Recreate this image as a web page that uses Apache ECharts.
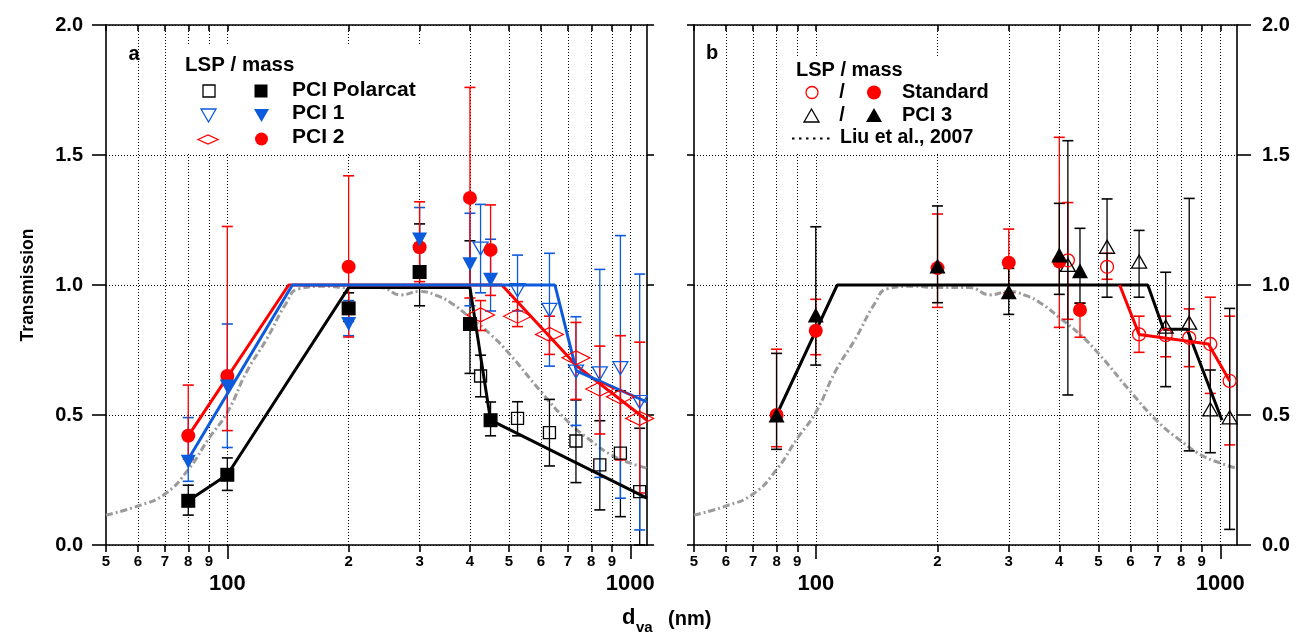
<!DOCTYPE html>
<html><head><meta charset="utf-8">
<script src="https://cdn.jsdelivr.net/npm/echarts@6/dist/echarts.min.js"></script>
<style>html,body{margin:0;padding:0;background:#fff}#c{width:1298px;height:633px}</style>
</head><body><div id="c"></div>
<script>
// ---------- axis ranges & tick labels ----------
const X_MIN = 50, X_MAX = 1100;
const minorTickValues = [50,60,70,80,90,200,300,400,500,600,700,800,900];
const minorTickLabels = ['5','6','7','8','9','2','3','4','5','6','7','8','9'];
const majorTickValues = [100,1000];
const majorTickLabels = ['100','1000'];
const gridXValues = [60,70,80,90,100,200,300,400,500,600,700,800,900,1000];
const yTickLabels = ['0.0','0.5','1.0','1.5','2.0'];

// ---------- Liu et al., 2007 ----------
const liuD = [50,60,70,80,90,100,112,125,140,150,175,200,240,270,300,330,360,400,450,500,600,700,800,900,1000,1100];
const liuT = [0.115,0.15,0.196,0.29,0.41,0.51,0.67,0.79,0.93,0.985,0.995,0.99,0.99,0.962,0.975,0.96,0.93,0.875,0.81,0.737,0.59,0.475,0.4,0.345,0.315,0.295];

// ---------- panel a : mass (filled) ----------
const aMassD = [80,100,200,300,400,450];
const aPolarcatMass   = [0.17,0.27,0.91,1.05,0.85,0.48];
const aPolarcatMassLo = [0.115,0.21,0.86,0.92,0.66,0.42];
const aPolarcatMassHi = [0.23,0.335,0.97,1.235,1.17,0.55];
const aPci1Mass   = [0.32,0.61,0.85,1.175,1.08,1.02];
const aPci1MassLo = [0.245,0.375,0.805,1.06,0.92,0.90];
const aPci1MassHi = [0.49,0.85,0.94,1.298,1.276,1.176];
const aPci2Mass   = [0.42,0.65,1.07,1.145,1.335,1.135];
const aPci2MassLo = [0.33,0.44,0.80,1.013,0.95,0.96];
const aPci2MassHi = [0.615,1.225,1.42,1.32,1.76,1.308];
// ---------- panel a : LSP (open) ----------
const aLspD = [425,525,630,733,840,945,1055];
const aPolarcatLsp   = [0.65,0.487,0.432,0.40,0.308,0.353,0.205];
const aPolarcatLspLo = [0.57,0.42,0.304,0.24,0.135,0.109,0.0];
const aPolarcatLspHi = [0.73,0.551,0.56,0.558,0.478,0.593,0.449];
const aPci1Lsp   = [1.14,0.98,0.904,0.667,0.66,0.68,0.55];
const aPci1LspLo = [0.97,0.90,0.688,0.46,0.26,0.18,0.058];
const aPci1LspHi = [1.31,1.115,1.122,0.878,1.06,1.19,1.042];
const aPci2Lsp   = [0.885,0.88,0.81,0.72,0.60,0.57,0.487];
const aPci2LspLo = [0.825,0.84,0.733,0.56,0.427,0.327,0.2];
const aPci2LspHi = [0.94,0.936,0.88,0.856,0.765,0.805,0.78];
// ---------- panel a : fit lines ----------
const aPolarcatFitD = [80,100,200,400,450,1100];
const aPolarcatFitT = [0.17,0.27,0.99,0.99,0.48,0.18];
const aPci1FitD = [80,145,650,735,1100];
const aPci1FitT = [0.33,1.0,1.0,0.67,0.55];
const aPci2FitD = [80,142,480,735,1100];
const aPci2FitT = [0.42,1.0,1.0,0.69,0.48];

// ---------- panel b : mass (filled) ----------
const bMassD = [80,100,200,300,400,450];
const bStdMass   = [0.5,0.824,1.065,1.086,1.09,0.904];
const bStdMassLo = [0.378,0.732,0.914,0.97,0.837,0.799];
const bStdMassHi = [0.753,0.945,1.273,1.215,1.568,0.93];
const bPci3Mass   = [0.5,0.885,1.073,0.974,1.115,1.055];
const bPci3MassLo = [0.368,0.692,0.932,0.887,0.964,0.93];
const bPci3MassHi = [0.737,1.224,1.304,1.064,1.314,1.218];
// ---------- panel b : LSP (open) ----------
const bLspD = [420,525,630,733,838,945,1055];
const bStdLsp   = [1.095,1.07,0.81,0.807,0.797,0.773,0.631];
const bStdLspLo = [0.868,1.022,0.741,0.724,0.686,0.583,0.385];
const bStdLspHi = [1.317,1.122,0.88,0.88,0.908,0.953,0.88];
const bPci3Lsp   = [1.077,1.147,1.09,0.84,0.855,0.522,0.491];
const bPci3LspLo = [0.577,0.953,0.953,0.609,0.362,0.355,0.06];
const bPci3LspHi = [1.555,1.331,1.21,1.049,1.333,0.673,0.91];
// ---------- panel b : fit lines ----------
const bPci3FitD = [80,113,662,724,828,1010];
const bPci3FitT = [0.5,1.0,1.0,0.83,0.83,0.48];
const bStdFitD = [564,630,935,1055];
const bStdFitT = [1.0,0.81,0.773,0.631];

// ---------- styling ----------
const FONT = '"Liberation Sans", Arial, Helvetica, sans-serif';
const BLUE = '#0b5bdc', RED = '#ff0000', BLACK = '#000000', GREY = '#9b9b9b';
const L10 = Math.log10;
const LMIN = L10(X_MIN), LMAX = L10(X_MAX);

function pts(d, v) { return d.map((x, i) => [x, v[i]]); }

function markerSeries(xi, yi, d, v, symbol, size, color, open, rotate) {
  return {
    type: 'scatter', xAxisIndex: xi, yAxisIndex: yi, data: pts(d, v),
    symbol: symbol, symbolSize: size, symbolRotate: rotate || 0, z: 6, silent: true,
    itemStyle: open ? {color: 'rgba(255,255,255,0)', borderColor: color, borderWidth: 1.3, opacity: 1}
                    : {color: color, borderWidth: 0, opacity: 1}
  };
}
function errSeries(xi, yi, d, lo, hi, color) {
  return {
    type: 'custom', xAxisIndex: xi, yAxisIndex: yi, z: 3, silent: true,
    data: d.map((x, i) => [x, lo[i], hi[i]]),
    encode: {x: 0, y: [1, 2]},
    renderItem: function (params, api) {
      const x = api.value(0);
      const p1 = api.coord([x, api.value(1)]);
      const p2 = api.coord([x, api.value(2)]);
      const w = 5.5;
      return {type: 'group', children: [
        {type: 'line', shape: {x1: p1[0], y1: p1[1], x2: p2[0], y2: p2[1]}, style: {stroke: color, lineWidth: 1.3}},
        {type: 'line', shape: {x1: p1[0] - w, y1: p1[1], x2: p1[0] + w, y2: p1[1]}, style: {stroke: color, lineWidth: 1.6}},
        {type: 'line', shape: {x1: p2[0] - w, y1: p2[1], x2: p2[0] + w, y2: p2[1]}, style: {stroke: color, lineWidth: 1.6}}
      ]};
    }
  };
}
function fitSeries(xi, yi, d, v, color) {
  return {type: 'line', xAxisIndex: xi, yAxisIndex: yi, data: pts(d, v), symbol: 'none', z: 4, silent: true,
          lineStyle: {color: color, width: 3}};
}
function liuSeries(xi, yi) {
  return {
    type: 'line', xAxisIndex: xi, yAxisIndex: yi, data: pts(liuD, liuT), symbol: 'none', smooth: 0.5, z: 2, silent: true,
    lineStyle: {color: GREY, width: 3, type: [7, 3, 2, 3]},
    markLine: {silent: true, symbol: ['none', 'none'], label: {show: false}, z: 1,
               lineStyle: {color: '#000', width: 1, type: [1, 2]},
               data: gridXValues.map(v => ({xAxis: v}))}
  };
}

const axisLineStyle = {color: '#000', width: 1.6};
function labelFromList(values, labels) {
  return function (v) {
    const i = values.findIndex(t => Math.abs(L10(t) - v) < 1e-6);
    return i >= 0 ? labels[i] : '';
  };
}
function xAxes(gi) {
  return [
    {gridIndex: gi, type: 'log', logBase: 10, min: X_MIN, max: X_MAX, position: 'bottom',
     axisLine: {show: true, onZero: false, lineStyle: axisLineStyle}, axisTick: {show: false},
     axisLabel: {show: false}, splitLine: {show: false}},
    {gridIndex: gi, type: 'value', min: LMIN, max: LMAX, position: 'bottom',
     axisLine: {show: false, onZero: false},
     axisTick: {show: true, length: 7, customValues: minorTickValues.map(L10), lineStyle: axisLineStyle},
     axisLabel: {show: true, customValues: minorTickValues.map(L10), margin: 9,
                 formatter: labelFromList(minorTickValues, minorTickLabels),
                 fontSize: 15, fontWeight: 'bold', color: '#000', fontFamily: FONT},
     splitLine: {show: false}},
    {gridIndex: gi, type: 'value', min: LMIN, max: LMAX, position: 'bottom',
     axisLine: {show: false, onZero: false},
     axisTick: {show: true, length: 14, customValues: majorTickValues.map(L10), lineStyle: axisLineStyle},
     axisLabel: {show: true, customValues: majorTickValues.map(L10), margin: 28,
                 formatter: labelFromList(majorTickValues, majorTickLabels),
                 fontSize: 22, fontWeight: 'bold', color: '#000', fontFamily: FONT},
     splitLine: {show: false}},
    {gridIndex: gi, type: 'value', min: LMIN, max: LMAX, position: 'top',
     axisLine: {show: true, onZero: false, lineStyle: axisLineStyle},
     axisTick: {show: true, inside: true, length: 6, customValues: minorTickValues.concat(majorTickValues).map(L10), lineStyle: axisLineStyle},
     axisLabel: {show: false}, splitLine: {show: false}}
  ];
}
function yAxis(gi, pos, labels, tickLen, split, margin) {
  return {gridIndex: gi, type: 'value', min: 0, max: 2, interval: 0.5, position: pos,
    axisLine: {show: true, onZero: false, lineStyle: axisLineStyle},
    axisTick: {show: true, length: tickLen, lineStyle: axisLineStyle},
    axisLabel: {show: labels, margin: margin || 8, fontSize: 20, fontWeight: 'bold', color: '#000', fontFamily: FONT,
                formatter: v => yTickLabels[Math.round(v / 0.5)]},
    splitLine: {show: split, lineStyle: {color: '#000', width: 1, type: [1, 2]}}};
}

// ---------- series ----------
const series = [
  // panel a
  liuSeries(0, 0),
  errSeries(0, 0, aMassD, aPolarcatMassLo, aPolarcatMassHi, BLACK),
  errSeries(0, 0, aMassD, aPci1MassLo, aPci1MassHi, BLUE),
  errSeries(0, 0, aMassD, aPci2MassLo, aPci2MassHi, RED),
  errSeries(0, 0, aLspD, aPolarcatLspLo, aPolarcatLspHi, BLACK),
  errSeries(0, 0, aLspD, aPci1LspLo, aPci1LspHi, BLUE),
  errSeries(0, 0, aLspD, aPci2LspLo, aPci2LspHi, RED),
  fitSeries(0, 0, aPolarcatFitD, aPolarcatFitT, BLACK),
  fitSeries(0, 0, aPci2FitD, aPci2FitT, RED),
  fitSeries(0, 0, aPci1FitD, aPci1FitT, BLUE),
  markerSeries(0, 0, aLspD, aPolarcatLsp, 'rect', 12, BLACK, true),
  markerSeries(0, 0, aLspD, aPci1Lsp, 'triangle', [15, 13], BLUE, true, 180),
  markerSeries(0, 0, aLspD, aPci2Lsp, 'diamond', [28, 14], RED, true),
  markerSeries(0, 0, aMassD, aPolarcatMass, 'rect', 14, BLACK, false),
  markerSeries(0, 0, aMassD, aPci2Mass, 'circle', 14, RED, false),
  markerSeries(0, 0, aMassD, aPci1Mass, 'triangle', [15, 14], BLUE, false, 180),
  // panel b
  liuSeries(4, 2),
  errSeries(4, 2, bMassD, bStdMassLo, bStdMassHi, RED),
  errSeries(4, 2, bMassD, bPci3MassLo, bPci3MassHi, BLACK),
  errSeries(4, 2, bLspD, bStdLspLo, bStdLspHi, RED),
  errSeries(4, 2, bLspD, bPci3LspLo, bPci3LspHi, BLACK),
  fitSeries(4, 2, bPci3FitD, bPci3FitT, BLACK),
  fitSeries(4, 2, bStdFitD, bStdFitT, RED),
  markerSeries(4, 2, bLspD, bStdLsp, 'circle', 13, RED, true),
  markerSeries(4, 2, bLspD, bPci3Lsp, 'triangle', [15, 13], BLACK, true),
  markerSeries(4, 2, bMassD, bStdMass, 'circle', 14, RED, false),
  markerSeries(4, 2, bMassD, bPci3Mass, 'triangle', [16, 15], BLACK, false)
];

// ---------- graphic (legends, titles) ----------
function txt(x, y, text, size, align, extra) {
  return Object.assign({type: 'text', x: x, y: y, z: 60, silent: true,
    style: {text: text, fill: '#000', font: 'bold ' + size + 'px ' + FONT, textAlign: align || 'left', textVerticalAlign: 'middle'}}, extra || {});
}
function rectBox(x, y, w, h) { return {type: 'rect', z: 50, silent: true, shape: {x: x, y: y, width: w, height: h}, style: {fill: '#fff'}}; }
function sq(cx, cy, s, color, open) {
  return {type: 'rect', z: 60, silent: true, shape: {x: cx - s / 2, y: cy - s / 2, width: s, height: s},
          style: open ? {fill: 'none', stroke: color, lineWidth: 1.3} : {fill: color}};
}
function poly(points, color, open) {
  return {type: 'polygon', z: 60, silent: true, shape: {points: points},
          style: open ? {fill: 'none', stroke: color, lineWidth: 1.3} : {fill: color}};
}
function circ(cx, cy, r, color, open) {
  return {type: 'circle', z: 60, silent: true, shape: {cx: cx, cy: cy, r: r},
          style: open ? {fill: 'none', stroke: color, lineWidth: 1.3} : {fill: color}};
}
const graphic = [
  rectBox(176, 45, 262, 107),
  rectBox(786, 56, 204, 96),
  txt(134, 54, 'a', 20, 'center'),
  txt(712, 53, 'b', 20, 'center'),
  // legend a
  txt(185, 65, 'LSP / mass', 20.5),
  sq(209, 91, 12, BLACK, true), sq(261, 91, 13, BLACK, false), txt(292, 90, 'PCI Polarcat', 21),
  poly([[201, 109], [216, 109], [208.5, 122]], BLUE, true), poly([[254, 109], [269, 109], [261.5, 122]], BLUE, false), txt(292, 113, 'PCI 1', 21),
  poly([[198, 139.5], [208, 135], [218, 139.5], [208, 144]], RED, true), circ(261.5, 139, 6.5, RED, false), txt(292, 137, 'PCI 2', 21),
  // legend b
  txt(796, 70, 'LSP / mass', 20),
  circ(812, 92.5, 6, RED, true), txt(842, 92, '/', 20, 'center'), circ(874, 92.5, 7, RED, false), txt(902, 92, 'Standard', 20),
  poly([[804, 122], [819, 122], [811.5, 109]], BLACK, true), txt(842, 115, '/', 20, 'center'), poly([[866, 122], [882, 122], [874, 108]], BLACK, false), txt(902, 115, 'PCI 3', 20),
  {type: 'line', z: 60, silent: true, shape: {x1: 792, y1: 138.5, x2: 834, y2: 138.5}, style: {stroke: '#000', lineWidth: 2.2, lineDash: [2.5, 4.5]}},
  txt(840, 138, 'Liu et al., 2007', 19.5),
  // axis titles
  txt(28, 285, 'Transmission', 17.5, 'center', {rotation: Math.PI / 2}),
  txt(622, 618, 'd', 22),
  txt(636, 628, 'va', 15),
  txt(668, 619, '(nm)', 20)
];

const chart = echarts.init(document.getElementById('c'), null, {renderer: 'canvas', width: 1298, height: 633});
chart.setOption({
  animation: false,
  backgroundColor: '#fff',
  grid: [
    {left: 106, right: 651, top: 25, bottom: 88},
    {left: 694, right: 61, top: 25, bottom: 88}
  ],
  xAxis: xAxes(0).concat(xAxes(1)),
  yAxis: [
    yAxis(0, 'left', true, 14, true, 23),
    yAxis(0, 'right', false, 7, false),
    yAxis(1, 'right', true, 14, true, 25),
    yAxis(1, 'left', false, 7, false)
  ],
  series: series,
  graphic: graphic
});
</script>
</body></html>
